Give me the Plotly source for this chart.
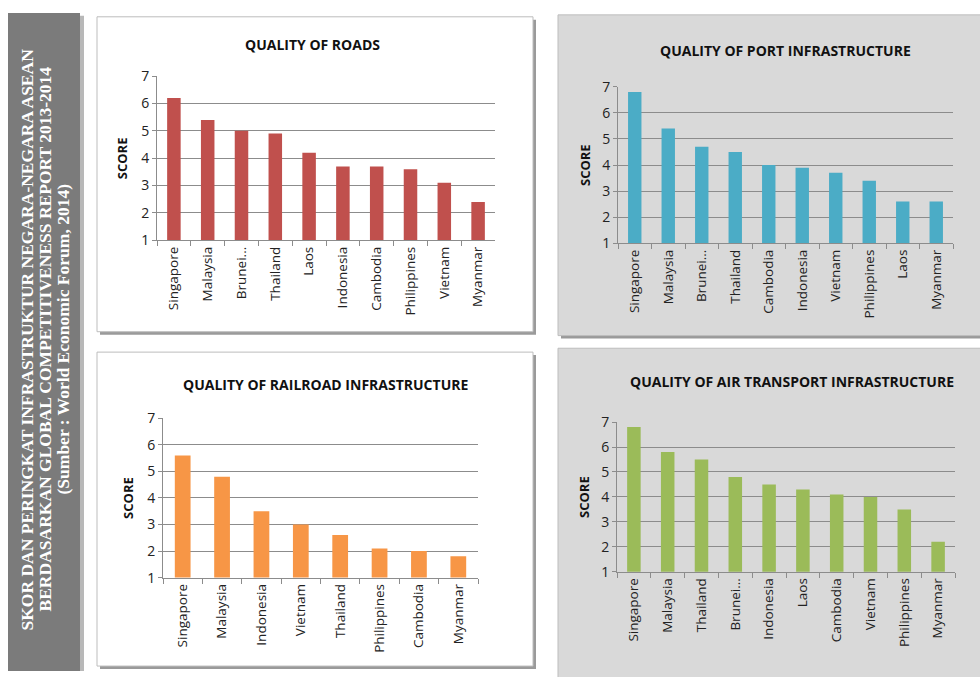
import plotly.graph_objects as go

W, H = 980, 677

# ---------------- data ----------------
roads_countries = ["Singapore", "Malaysia", "Brunei...", "Thailand", "Laos", "Indonesia",
                   "Cambodia", "Philippines", "Vietnam", "Myanmar"]
roads_scores = [6.2, 5.4, 5.0, 4.9, 4.2, 3.7, 3.7, 3.6, 3.1, 2.4]

port_countries = ["Singapore", "Malaysia", "Brunei...", "Thailand", "Cambodia", "Indonesia",
                  "Vietnam", "Philippines", "Laos", "Myanmar"]
port_scores = [6.8, 5.4, 4.7, 4.5, 4.0, 3.9, 3.7, 3.4, 2.6, 2.6]

rail_countries = ["Singapore", "Malaysia", "Indonesia", "Vietnam", "Thailand",
                  "Philippines", "Cambodia", "Myanmar"]
rail_scores = [5.6, 4.8, 3.5, 3.0, 2.6, 2.1, 2.0, 1.8]

air_countries = ["Singapore", "Malaysia", "Thailand", "Brunei...", "Indonesia", "Laos",
                 "Cambodia", "Vietnam", "Philippines", "Myanmar"]
air_scores = [6.8, 5.8, 5.5, 4.8, 4.5, 4.3, 4.1, 4.0, 3.5, 2.2]

titles = ["QUALITY OF ROADS", "QUALITY OF PORT INFRASTRUCTURE",
          "QUALITY OF RAILROAD INFRASTRUCTURE", "QUALITY OF AIR TRANSPORT INFRASTRUCTURE"]
y_title = "SCORE"
y_ticks = [1, 2, 3, 4, 5, 6, 7]
banner_lines = ["SKOR DAN PERINGKAT INFRASTRUKTUR NEGARA-NEGARA ASEAN",
                "BERDASARKAN GLOBAL COMPETITIVENESS REPORT 2013-2014",
                "(Sumber : World Economic Forum, 2014)"]

# ---------------- layout helpers (pixels -> paper) ----------------
def px(x):
    return x / W

def py(y):
    return 1 - y / H

SANS = "Open Sans, Liberation Sans, sans-serif"
SERIF = "Liberation Serif, DejaVu Serif, serif"

panels = [
    dict(rect=(97, 7, 533, 331), fill="#ffffff", plot=(157, 68, 495, 237), title=(312, 35), ylab=122,
         data=(roads_countries, roads_scores), color="#c0504d"),
    dict(rect=(558, 5, 990, 335), fill="#d9d9d9", plot=(618, 79, 953, 240), title=(785, 42), ylab=585,
         data=(port_countries, port_scores), color="#4bacc6"),
    dict(rect=(97, 352, 533, 675), fill="#ffffff", plot=(163, 420, 478, 584), title=(325, 385), ylab=128,
         data=(rail_countries, rail_scores), color="#f79646"),
    dict(rect=(558, 348, 990, 690), fill="#d9d9d9", plot=(617, 424, 955, 578), title=(792, 382), ylab=584,
         data=(air_countries, air_scores), color="#9bbb59"),
]

fig = go.Figure()
shapes = []
annotations = []

# banner
shapes.append(dict(type="rect", xref="paper", yref="paper", x0=px(10), x1=px(84), y0=py(680), y1=py(6),
                   fillcolor="#b8b8b8", line=dict(width=0), layer="below"))
shapes.append(dict(type="rect", xref="paper", yref="paper", x0=px(8), x1=px(80), y0=py(680), y1=py(3),
                   fillcolor="#7b7b7b", line=dict(width=0), layer="below"))
for i, line in enumerate(banner_lines):
    annotations.append(dict(text="<b>" + line + "</b>", xref="paper", yref="paper", x=px(27 + 18 * i),
                            y=py(339), showarrow=False, textangle=-90, xanchor="center", yanchor="middle",
                            font=dict(family=SERIF, size=17.5, color="#ffffff")))

for i, p in enumerate(panels):
    x0, y0, x1, y1 = p["rect"]
    shapes.append(dict(type="rect", xref="paper", yref="paper", x0=px(x0 + 3), x1=px(x1 + 3),
                       y0=py(y1 + 3), y1=py(y0 + 3), fillcolor="#9a9a9a", line=dict(width=0), layer="below"))
    shapes.append(dict(type="rect", xref="paper", yref="paper", x0=px(x0), x1=px(x1),
                       y0=py(y1), y1=py(y0), fillcolor=p["fill"], line=dict(color="#bdbdbd", width=1),
                       layer="below"))
    cats, vals = p["data"]
    n = i + 1
    xa = "x" if n == 1 else f"x{n}"
    ya = "y" if n == 1 else f"y{n}"
    fig.add_trace(go.Bar(x=cats, y=vals, marker=dict(color=p["color"], line=dict(width=0)),
                         xaxis=xa, yaxis=ya, showlegend=False, hoverinfo="x+y"))
    a0, b0, a1, b1 = p["plot"]
    xkey = "xaxis" if n == 1 else f"xaxis{n}"
    ykey = "yaxis" if n == 1 else f"yaxis{n}"
    fig.layout[xkey] = dict(domain=[px(a0), px(a1)], anchor=ya, type="category",
                            showline=True, linecolor="#8c8c8c", linewidth=1,
                            ticks="outside", tickson="boundaries", ticklen=5, tickcolor="#8c8c8c",
                            tickangle=-90, showgrid=False,
                            tickfont=dict(family=SANS, size=13.5, color="#222222"))
    fig.layout[ykey] = dict(domain=[py(b1), py(b0)], anchor=xa, range=[1, 7], tickvals=y_ticks,
                            showline=True, linecolor="#8c8c8c", linewidth=1,
                            ticks="outside", ticklen=4, tickcolor="#8c8c8c",
                            showgrid=True, gridcolor="#8c8c8c", gridwidth=1, zeroline=False,
                            tickfont=dict(family=SANS, size=14, color="#222222"))
    tx, ty = p["title"]
    annotations.append(dict(text="<b>" + titles[i] + "</b>", xref="paper", yref="paper", x=px(tx), y=py(ty),
                            showarrow=False, xanchor="center", yanchor="middle",
                            font=dict(family=SANS, size=14, color="#111111")))
    annotations.append(dict(text="<b>" + y_title + "</b>", xref="paper", yref="paper", x=px(p["ylab"]),
                            y=py((b0 + b1) / 2), showarrow=False, textangle=-90,
                            xanchor="center", yanchor="middle",
                            font=dict(family=SANS, size=13, color="#111111")))

fig.update_layout(width=W, height=H, margin=dict(l=0, r=0, t=0, b=0),
                  paper_bgcolor="#ffffff", plot_bgcolor="rgba(0,0,0,0)",
                  bargap=0.6, shapes=shapes, annotations=annotations)

fig.write_html("out.html")
